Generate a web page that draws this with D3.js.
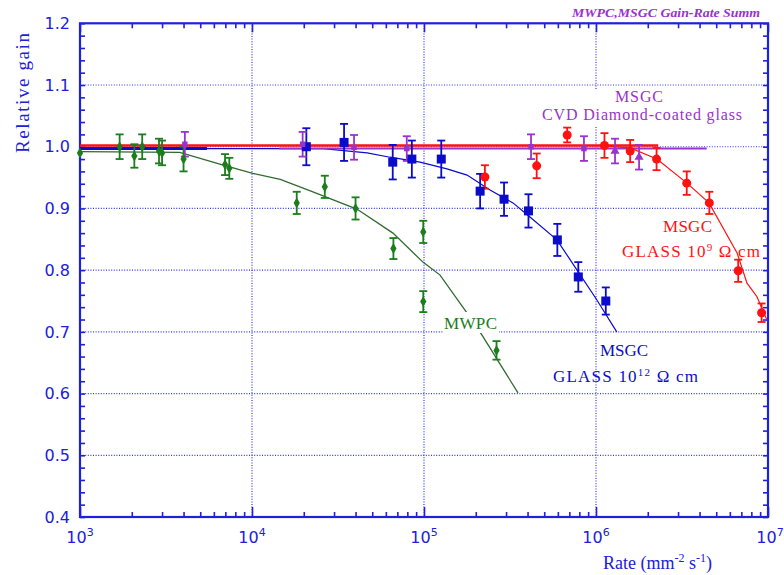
<!DOCTYPE html>
<html><head><meta charset="utf-8">
<script src="https://cdn.jsdelivr.net/npm/d3@7"></script>
<style>body{margin:0;background:#fff}svg{display:block}</style>
</head><body>
<svg id="c" width="784" height="575"></svg>
<script>
// ---------- data ----------
const yTickLabels = ["0.4","0.5","0.6","0.7","0.8","0.9","1.0","1.1","1.2"];
const xTickExps = [3,4,5,6,7];

// MWPC (green diamonds): rate, gain, error
const mwpcRate = [1.0e3,1.7e3,2.07e3,2.3e3,2.88e3,3.0e3,4.0e3,6.97e3,7.38e3,1.82e4,2.65e4,4.0e4,6.64e4,9.9e4,9.9e4,2.64e5];
const mwpcGain = [0.990,1.000,0.985,1.000,0.993,0.990,0.980,0.971,0.965,0.909,0.935,0.900,0.835,0.862,0.749,0.670];
const mwpcErr  = [0,0.020,0.019,0.020,0.020,0.020,0.020,0.017,0.017,0.018,0.018,0.018,0.017,0.018,0.017,0.015];
const mwpcFitRate = [1e3,3.8e3,6.5e3,1.01e4,1.46e4,2.26e4,4.07e4,6.6e4,9.86e4,1.24e5,1.85e5,2.17e5,3.16e5,3.52e5];
const mwpcFitGain = [0.992,0.991,0.972,0.957,0.947,0.927,0.899,0.860,0.813,0.792,0.724,0.695,0.622,0.601];

// MSGC glass 10^12 (blue squares)
const glass12Rate = [2.07e4,3.43e4,6.58e4,8.5e4,1.26e5,2.12e5,2.92e5,4.05e5,5.96e5,7.89e5,1.14e6];
const glass12Gain = [1.000,1.007,0.975,0.980,0.980,0.928,0.915,0.896,0.849,0.789,0.750];
const glass12Err  = [0.030,0.030,0.028,0.030,0.030,0.028,0.027,0.027,0.026,0.024,0.022];
const glass12FitRate = [1e3,5.47e3,2.59e4,4.67e4,6.34e4,9.48e4,1.36e5,1.78e5,2.42e5,3.29e5,4.13e5,5.93e5,7.76e5,1.01e6,1.32e6];
const glass12FitGain = [0.997,0.997,0.997,0.990,0.983,0.975,0.964,0.954,0.930,0.909,0.886,0.849,0.800,0.752,0.700];

// MSGC glass 10^9 (red circles)
const glass9Rate = [2.26e5,4.52e5,6.8e5,1.12e6,1.58e6,2.25e6,3.37e6,4.56e6,6.71e6,9.18e6];
const glass9Gain = [0.951,0.969,1.019,1.002,0.993,0.980,0.941,0.909,0.799,0.731];
const glass9Err  = [0.019,0.020,0.012,0.020,0.018,0.018,0.019,0.018,0.018,0.015];
const glass9FlatRate = [1e3,2.3e6];
const glass9FlatGain = [1.002,1.002];
const glass9FitRate = [1.01e6,1.58e6,2.26e6,3.38e6,4.54e6,6.61e6,7.55e6,8.63e6,9.86e6];
const glass9FitGain = [1.002,0.998,0.980,0.941,0.909,0.828,0.779,0.757,0.719];

// MSGC CVD diamond-coated glass (purple)
const cvdRate = [4.07e3,1.97e4,3.92e4,7.94e4,4.19e5,8.51e5,1.29e6,1.78e6];
const cvdGain = [1.004,1.004,0.999,0.997,1.000,0.997,0.993,0.983];
const cvdErr  = [0.020,0.020,0.020,0.020,0.020,0.020,0.020,0.020];
const cvdShape = ["square","square","square","square","square","square","triangle","triangle"];
const cvdFitRate = [1.44e4,4.4e6];
const cvdFitGain = [0.997,0.997];

// ---------- drawing ----------
const AX = "#2020dc", GRID = "#3535ff";
const GREEN = "#1b7d1b", GREENLINE = "#2f6b2f", BLUE = "#0b0bcc", RED = "#ff1111", PURPLE = "#9a33cc";
const svg = d3.select("#c");
const x = d3.scaleLog().domain([1e3,1e7]).range([80,768]);
const y = d3.scaleLinear().domain([0.4,1.2]).range([517,23.3]);

// grid
const gridY = d3.range(0.5,1.15,0.1);
svg.append("g").selectAll("line").data(gridY).join("line")
  .attr("x1",80).attr("x2",768).attr("y1",d=>y(d)).attr("y2",d=>y(d))
  .attr("stroke",GRID).attr("stroke-width",1.2).attr("stroke-dasharray","1,1.6");
svg.append("g").selectAll("line").data([1e4,1e5,1e6]).join("line")
  .attr("y1",23).attr("y2",517).attr("x1",d=>x(d)).attr("x2",d=>x(d))
  .attr("stroke",GRID).attr("stroke-width",1.2).attr("stroke-dasharray","1,1.6");

// axes ticks
const minorX = [];
for (let e=3;e<7;e++) for (let m=2;m<10;m++) minorX.push(m*Math.pow(10,e));
const majorX = xTickExps.map(e=>Math.pow(10,e));
const yMinor = d3.range(0,41).map(i=>0.4+i*0.02);
function styleAxis(g){ g.select(".domain").remove(); g.selectAll("line").attr("stroke",AX).attr("stroke-width",1.6); g.selectAll("text").remove(); }
svg.append("g").attr("transform","translate(0,517)").call(d3.axisBottom(x).tickValues(minorX).tickSize(-5)).call(styleAxis);
svg.append("g").attr("transform","translate(0,517)").call(d3.axisBottom(x).tickValues(majorX).tickSize(-10)).call(styleAxis);
svg.append("g").attr("transform","translate(0,23.3)").call(d3.axisTop(x).tickValues(minorX).tickSize(-5)).call(styleAxis);
svg.append("g").attr("transform","translate(0,23.3)").call(d3.axisTop(x).tickValues(majorX).tickSize(-9)).call(styleAxis);
svg.append("g").attr("transform","translate(80,0)").call(d3.axisLeft(y).tickValues(yMinor).tickSize(-5)).call(styleAxis);
svg.append("g").attr("transform","translate(768,0)").call(d3.axisRight(y).tickValues(yMinor).tickSize(-5)).call(styleAxis);
svg.append("rect").attr("x",80).attr("y",23.3).attr("width",688).attr("height",493.7)
  .attr("fill","none").attr("stroke",AX).attr("stroke-width",2.2);

// tick labels
svg.append("g").selectAll("text").data(yTickLabels).join("text")
  .attr("x",70).attr("y",d=>y(+d)).attr("dy","0.36em").attr("text-anchor","end")
  .attr("font-family","DejaVu Sans").attr("font-size",16).attr("fill",AX).text(d=>d);
const xl = svg.append("g").selectAll("text").data(xTickExps).join("text")
  .attr("x",d=>x(Math.pow(10,d))+ (d===7?2:0)).attr("y",543).attr("text-anchor","middle")
  .attr("font-family","DejaVu Sans").attr("font-size",16).attr("fill",AX);
xl.append("tspan").text("10");
xl.append("tspan").attr("dy",-7).attr("font-size",11).text(d=>d);

// axis titles
svg.append("text").attr("transform","translate(29,93) rotate(-90)").attr("text-anchor","middle")
  .attr("font-family","Liberation Serif").attr("font-size",19).attr("fill",AX)
  .attr("textLength",120).attr("lengthAdjust","spacing").text("Relative gain");
const xt = svg.append("text").attr("x",603).attr("y",569)
  .attr("font-family","Liberation Serif").attr("font-size",18).attr("fill",AX);
xt.append("tspan").text("Rate  (mm");
xt.append("tspan").attr("dy",-7).attr("font-size",12).text("-2");
xt.append("tspan").attr("dy",7).text(" s");
xt.append("tspan").attr("dy",-7).attr("font-size",12).text("-1");
xt.append("tspan").attr("dy",7).text(")");

svg.append("text").attr("x",572).attr("y",17).attr("font-family","Liberation Serif")
  .attr("font-style","italic").attr("font-weight","bold").attr("font-size",12).attr("fill",PURPLE)
  .attr("textLength",188).attr("lengthAdjust","spacingAndGlyphs").text("MWPC,MSGC Gain-Rate Summ");

// lines
const line = d3.line().x(d=>x(d[0])).y(d=>y(d[1]));
function drawLine(rs,gs,color,w){
  svg.append("path").datum(rs.map((r,i)=>[r,gs[i]])).attr("d",line)
    .attr("fill","none").attr("stroke",color).attr("stroke-width",w);
}
drawLine(mwpcFitRate,mwpcFitGain,GREENLINE,1.3);
drawLine(glass12FitRate,glass12FitGain,BLUE,1.2);
drawLine(glass12FitRate.slice(0,2),glass12FitGain.slice(0,2),BLUE,3);
drawLine(cvdFitRate,cvdFitGain,PURPLE,2);
drawLine(glass9FlatRate,glass9FlatGain,RED,2.4);
drawLine(glass9FitRate,glass9FitGain,RED,1.2);

// error bars + markers
function errBars(rs,gs,es,color,cap,w){
  const g = svg.append("g").attr("stroke",color).attr("stroke-width",w);
  rs.forEach((r,i)=>{
    if(!es[i]) return;
    const cx=x(r), y1=y(gs[i]-es[i]), y2=y(gs[i]+es[i]);
    g.append("line").attr("x1",cx).attr("x2",cx).attr("y1",y1).attr("y2",y2);
    g.append("line").attr("x1",cx-cap).attr("x2",cx+cap).attr("y1",y1).attr("y2",y1);
    g.append("line").attr("x1",cx-cap).attr("x2",cx+cap).attr("y1",y2).attr("y2",y2);
  });
}
errBars(mwpcRate,mwpcGain,mwpcErr,GREEN,4,1.8);
errBars(glass12Rate,glass12Gain,glass12Err,BLUE,4,1.8);
errBars(glass9Rate,glass9Gain,glass9Err,RED,4,1.8);
errBars(cvdRate,cvdGain,cvdErr,PURPLE,4,1.8);

svg.append("g").selectAll("path").data(mwpcRate.map((r,i)=>[r,mwpcGain[i]])).join("path")
  .attr("d",d3.symbol(d3.symbolDiamond,34)).attr("transform",d=>`translate(${x(d[0])},${y(d[1])})`).attr("fill",GREEN);
svg.append("g").selectAll("rect").data(glass12Rate.map((r,i)=>[r,glass12Gain[i]])).join("rect")
  .attr("x",d=>x(d[0])-4.5).attr("y",d=>y(d[1])-4.5).attr("width",9).attr("height",9).attr("fill",BLUE);
svg.append("g").selectAll("circle").data(glass9Rate.map((r,i)=>[r,glass9Gain[i]])).join("circle")
  .attr("cx",d=>x(d[0])).attr("cy",d=>y(d[1])).attr("r",4.5).attr("fill",RED);
svg.append("g").selectAll("path").data(cvdRate.map((r,i)=>[r,cvdGain[i],cvdShape[i]])).join("path")
  .attr("d",d=>d3.symbol(d[2]==="triangle"?d3.symbolTriangle:d3.symbolSquare,d[2]==="triangle"?36:30)())
  .attr("transform",d=>`translate(${x(d[0])},${y(d[1])})`).attr("fill",PURPLE);

// annotations
function label(lines,color,box,fs){
  if(box) svg.append("rect").attr("x",box[0]).attr("y",box[1]).attr("width",box[2]).attr("height",box[3]).attr("fill","#fff");
  lines.forEach(l=>{
    const t = svg.append("text").attr("x",l.x).attr("y",l.y).attr("font-family","Liberation Serif")
      .attr("font-size",fs||17).attr("fill",color);
    if(l.w) t.attr("textLength",l.w).attr("lengthAdjust","spacing");
    l.parts.forEach(p=>{
      const s=t.append("tspan").text(p.t);
      if(p.sup){ s.attr("dy",-6).attr("font-size",11); }
      if(p.down){ s.attr("dy",6); }
    });
  });
}
label([{x:615,y:102,w:48,parts:[{t:"MSGC"}]},{x:542,y:120,w:200,parts:[{t:"CVD Diamond-coated glass"}]}],PURPLE,[539,89,207,37],16);
label([{x:444,y:329,w:53,parts:[{t:"MWPC"}]}],GREEN,[443,312,56,21]);
label([{x:600,y:356,w:48,parts:[{t:"MSGC"}]},
       {x:553,y:382,w:145,parts:[{t:"GLASS 10"},{t:"12",sup:true},{t:" Ω  cm",down:true}]}],BLUE,null);
label([{x:663,y:232,w:49,parts:[{t:"MSGC"}]},
       {x:622,y:257,w:138,parts:[{t:"GLASS 10"},{t:"9",sup:true},{t:" Ω  cm",down:true}]}],RED,null);
</script>
</body></html>
